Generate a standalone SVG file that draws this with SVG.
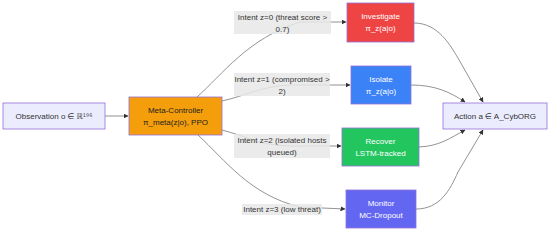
<svg xmlns="http://www.w3.org/2000/svg" width="550" height="232" viewBox="0 0 550 232">
<defs>
<marker id="arr" viewBox="0 0 10 10" refX="9" refY="5" markerWidth="5" markerHeight="5" orient="auto" markerUnits="userSpaceOnUse">
<path d="M0,0 L10,5 L0,10 z" fill="#333"/>
</marker>
<style>
.n rect{stroke:#9370DB;stroke-width:0.8}
.t{font-family:"Liberation Sans","DejaVu Sans",sans-serif;font-size:8px;text-anchor:middle}
.w{fill:#fff}
.d{fill:#333}
.e path{fill:none;stroke:#777;stroke-width:0.8;marker-end:url(#arr)}
.lb{fill:#e8e8e8;opacity:0.85}
</style>
</defs>
<rect width="550" height="232" fill="#fff"/>
<g id="connectors" class="e">
<path d="M105,116 L128,116"/>
<path d="M197,97 C222,75 248,38 300,22 L346,22"/>
<path d="M222,101 C245,96 262,86 290,85 L350,85"/>
<path d="M222,130 C245,136 262,146 290,146 L341,146"/>
<path d="M198,135 C225,160 250,195 300,207 L345,209"/>
<path d="M414,23 C438,23 450,45 458,58 L483,102"/>
<path d="M411,85 C435,85 450,92 465,102"/>
<path d="M419,147 C440,146 450,138 465,130"/>
<path d="M416,209 C440,209 450,190 458,172 L483,130"/>
</g>
<g id="labels">
<rect class="lb" x="234" y="11" width="97" height="23"/>
<text class="t d" x="282.5" y="20">Intent z=0 (threat score &gt;</text>
<text class="t d" x="282.5" y="32">0.7)</text>
<rect class="lb" x="234" y="73" width="96" height="23"/>
<text class="t d" x="282" y="82">Intent z=1 (compromised &gt;</text>
<text class="t d" x="282" y="94">2)</text>
<rect class="lb" x="234" y="134" width="96" height="24"/>
<text class="t d" x="282" y="143">Intent z=2 (isolated hosts</text>
<text class="t d" x="282" y="155">queued)</text>
<rect class="lb" x="242" y="204" width="80" height="11"/>
<text class="t d" x="282" y="212">Intent z=3 (low threat)</text>
</g>
<g id="observation" class="n">
<rect x="3" y="103" width="102" height="26" fill="#ECECFF"/>
<text class="t d" x="54" y="119">Observation o ∈ ℝ¹⁹⁶</text>
</g>
<g id="meta" class="n">
<rect x="129" y="97" width="93" height="38" fill="#F59E0B"/>
<text class="t" fill="#222" x="175.5" y="113">Meta-Controller</text>
<text class="t" fill="#222" x="175.5" y="125">π_meta(z|o), PPO</text>
</g>
<g id="investigate" class="n">
<rect x="347" y="3" width="67" height="39" fill="#EF4444"/>
<text class="t w" x="380.5" y="19">Investigate</text>
<text class="t w" x="380.5" y="31">π_z(a|o)</text>
</g>
<g id="isolate" class="n">
<rect x="351" y="66" width="60" height="38" fill="#3B82F6"/>
<text class="t w" x="381" y="82">Isolate</text>
<text class="t w" x="381" y="94">π_z(a|o)</text>
</g>
<g id="recover" class="n">
<rect x="342" y="128" width="77" height="38" fill="#22C55E"/>
<text class="t w" x="380.5" y="144">Recover</text>
<text class="t w" x="380.5" y="156">LSTM-tracked</text>
</g>
<g id="monitor" class="n">
<rect x="346" y="190" width="70" height="38" fill="#6366F1"/>
<text class="t w" x="381" y="206">Monitor</text>
<text class="t w" x="381" y="218">MC-Dropout</text>
</g>
<g id="action" class="n">
<rect x="443" y="103" width="104" height="26" fill="#ECECFF"/>
<text class="t d" x="495" y="119">Action a ∈ A_CybORG</text>
</g>
</svg>
